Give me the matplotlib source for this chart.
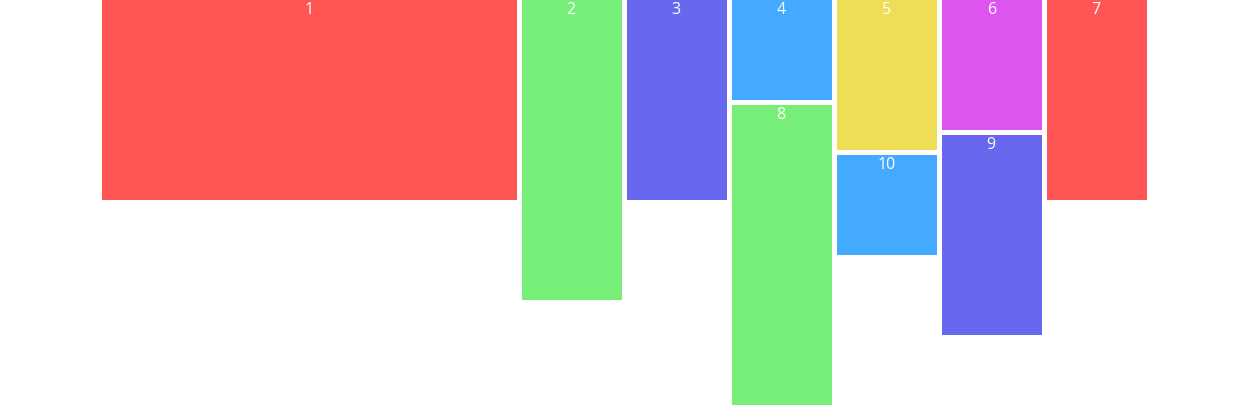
import matplotlib
matplotlib.use("Agg")
import matplotlib.pyplot as plt

# Node data
labels = ["1", "2", "3", "4", "5", "6", "7", "8", "9", "10"]
parents = [None, None, None, None, None, None, None, "4", "6", "5"]
values = [2.0, 3.0, 2.0, 1.0, 1.5, 1.3, 2.0, 3.0, 2.0, 1.0]
spans = [4, 1, 1, 1, 1, 1, 1, 1, 1, 1]
colors = ["#ff5555", "#77ee77", "#6868ee", "#44aaff", "#eedd55",
          "#dd55ee", "#ff5555", "#77ee77", "#6868ee", "#44aaff"]

W, H = 1248, 405
fig = plt.figure(figsize=(W / 100, H / 100), dpi=100)
ax = fig.add_axes([0, 0, 1, 1])
col_px = 105.0
gap = 5.0 / col_px
ax.set_xlim(-102 / col_px, (W - 102) / col_px)
ax.set_ylim(H / 100, 0)
ax.axis("off")

vgap = 0.05
col_of = {}
bottom_of = {}
col = 0
for lab, par, v, s in zip(labels, parents, values, spans):
    if par is None:
        col_of[lab] = (col, s)
        col += s
        y0 = 0.0
    else:
        col_of[lab] = col_of[par]
        y0 = bottom_of[par] + vgap
    bottom_of[lab] = y0 + v

for lab, par, v, c in zip(labels, parents, values, colors):
    c0, s = col_of[lab]
    y0 = bottom_of[lab] - v
    w = s - gap
    ax.bar(c0, v, width=w, bottom=y0, align="edge", color=c, linewidth=0)
    off = 0.10
    ax.text(c0 + w / 2 - 0.007, y0 + off, lab, ha="center", va="center",
            color="white", fontsize=11.5, family=["Open Sans", "DejaVu Sans"])

fig.savefig("out.png", dpi=100)
